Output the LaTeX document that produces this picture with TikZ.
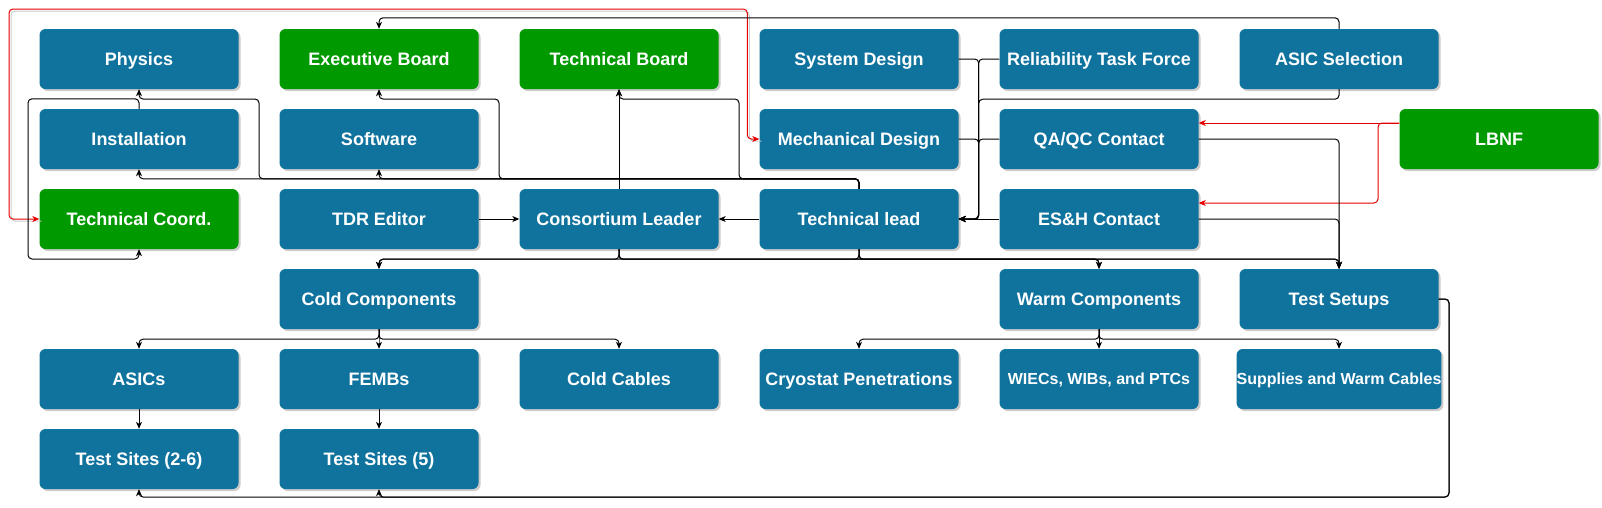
\documentclass[tikz,border=0pt]{standalone}
\usepackage{fontspec}
\setmainfont{Liberation Sans}
\usetikzlibrary{arrows.meta,calc,shadows}
\definecolor{boxblue}{HTML}{10739E}
\definecolor{boxgreen}{HTML}{009900}
\colorlet{linkred}{red!90!black}

\begin{document}
\begin{tikzpicture}[x=1pt,y=-1pt,>={Stealth[length=7pt,width=6pt,inset=2pt]}]
\tikzset{BlueBox/.style={rectangle, rounded corners=6pt, fill=boxblue, text=white,
    font=\bfseries\fontsize{18}{21}\selectfont, minimum width=199pt, minimum height=60pt,
    inner sep=0pt, text height=13pt, text depth=0pt,
    drop shadow={shadow xshift=2pt, shadow yshift=-2pt, fill=black!40, opacity=0.5}},
  GreenBox/.style={BlueBox, fill=boxgreen},
  SmallText/.style={font=\bfseries\fontsize{16}{19}\selectfont, text height=11.5pt},
  Link/.style={line width=1pt, rounded corners=4pt, ->},
  RedLink/.style={Link, draw=linkred},
  RedShade/.style={line width=1pt, rounded corners=4pt, draw=black!20,
    transform canvas={xshift=2pt,yshift=-2pt}}}
\useasboundingbox (0,0) rectangle (1602,507);
% boxes
\node[BlueBox]  (phys)   at (139,59)  {Physics};
\node[GreenBox] (exec)   at (379,59)  {Executive Board};
\node[GreenBox] (techb)  at (619,59)  {Technical Board};
\node[BlueBox]  (sysd)   at (859,59)  {System Design};
\node[BlueBox]  (rtf)    at (1099,59) {Reliability Task Force};
\node[BlueBox]  (asic)   at (1339,59) {ASIC Selection};
\node[BlueBox]  (inst)   at (139,139) {Installation};
\node[BlueBox]  (soft)   at (379,139) {Software};
\node[BlueBox]  (mech)   at (859,139) {Mechanical Design};
\node[BlueBox]  (qaqc)   at (1099,139) {QA/QC Contact};
\node[GreenBox] (lbnf)   at (1499,139) {LBNF};
\node[GreenBox] (tc)     at (139,219) {Technical Coord.};
\node[BlueBox]  (tdr)    at (379,219) {TDR Editor};
\node[BlueBox]  (cl)     at (619,219) {Consortium Leader};
\node[BlueBox]  (tl)     at (859,219) {Technical lead};
\node[BlueBox]  (esh)    at (1099,219) {ES\&H Contact};
\node[BlueBox]  (cold)   at (379,299) {Cold Components};
\node[BlueBox]  (warm)   at (1099,299) {Warm Components};
\node[BlueBox]  (tsetup) at (1339,299) {Test Setups};
\node[BlueBox]  (asics)  at (139,379) {ASICs};
\node[BlueBox]  (fembs)  at (379,379) {FEMBs};
\node[BlueBox]  (ccab)   at (619,379) {Cold Cables};
\node[BlueBox]  (cryo)   at (859,379) {Cryostat Penetrations};
\node[BlueBox,SmallText] (wiec) at (1099,379) {WIECs, WIBs, and PTCs};
\node[BlueBox,SmallText] (supp) at (1339,379) {Supplies and Warm Cables};
\node[BlueBox]  (ts26)   at (139,459) {Test Sites (2-6)};
\node[BlueBox]  (ts5)    at (379,459) {Test Sites (5)};
% red links
\draw[RedShade] (tc.west) -| (9,9) -| ($(mech.west)+(-12,0)$) -- (mech.west);
\draw[RedLink,<->] (tc.west) -| (9,9) -| ($(mech.west)+(-12,0)$) -- (mech.west);
\draw[RedLink] ($(lbnf.west)+(0,-16)$) -- ($(qaqc.east)+(0,-16)$);
\draw[RedLink] ($(lbnf.west)+(0,-16)$) -| (1378,203) -- ($(esh.east)+(0,-16)$);
% into the technical lead
\foreach \s in {sysd,mech} \draw[Link] (\s.east) -| ($(tl.east)+(20,0)$) -- (tl.east);
\foreach \s in {rtf,qaqc} \draw[Link] (\s.west) -| ($(tl.east)+(20,0)$) -- (tl.east);
\draw[Link] (asic.south) -- ++(0,10) -| ($(tl.east)+(20,0)$) -- (tl.east);
\draw[Link] (esh.west) -- (tl.east);
\draw[Link] (asic.north) -- ++(0,-11) -| (exec.north);
\draw[Link] (tl.west) -- (cl.east);
\draw[Link] (tdr.east) -- (cl.west);
\draw[Link] (cl.north) -- (techb.south);
% from the technical lead upwards
\foreach \t in {inst,soft} \draw[Link] (tl.north) -- ++(0,-10) -| (\t.south);
\draw[Link] (tl.north) -- ++(0,-10) -| (259,99) -| (phys.south);
\draw[Link] (tl.north) -- ++(0,-10) -| (499,99) -| (exec.south);
\draw[Link] (tl.north) -- ++(0,-10) -| (739,99) -| (techb.south);
\draw[Link] (inst.north) -- ++(0,-10) -| (28,259) -| (tc.south);
% downwards
\foreach \s in {cl,tl} \foreach \t in {cold,warm,tsetup}
  \draw[Link] (\s.south) -- ++(0,10) -| (\t.north);
\foreach \s in {qaqc,esh} \draw[Link] (\s.east) -| (tsetup.north);
\foreach \t in {asics,fembs,ccab} \draw[Link] (cold.south) -- ++(0,10) -| (\t.north);
\foreach \t in {cryo,wiec,supp} \draw[Link] (warm.south) -- ++(0,10) -| (\t.north);
\draw[Link] (asics.south) -- (ts26.north);
\draw[Link] (fembs.south) -- (ts5.north);
\foreach \t in {ts5,ts26} \draw[Link] (tsetup.east) -| (1449,497) -| (\t.south);
\end{tikzpicture}
\end{document}
